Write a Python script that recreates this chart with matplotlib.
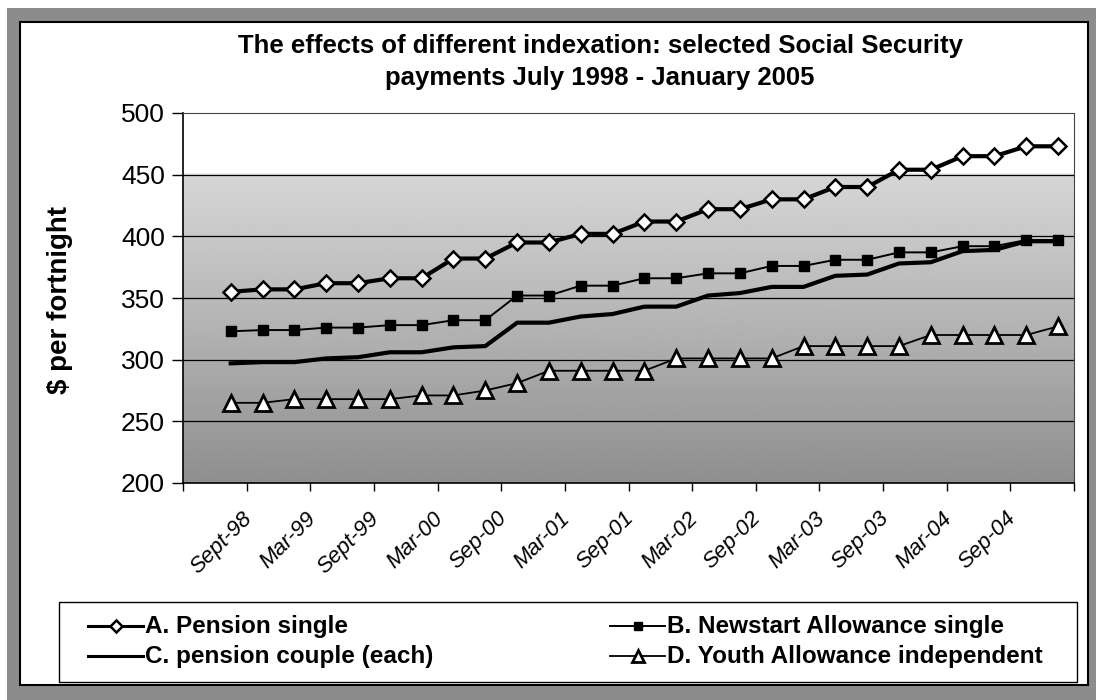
import numpy as np
import matplotlib.pyplot as plt
import matplotlib.transforms as mtransforms
from matplotlib.patches import Rectangle
from matplotlib.lines import Line2D

plt.rcParams['font.family'] = ['Liberation Sans', 'DejaVu Sans']

# quarterly payment rates, July 1998 - January 2005 ($ per fortnight)
quarters = np.arange(1, 28)
tick_labels = ['Sept-98', 'Mar-99', 'Sept-99', 'Mar-00', 'Sep-00', 'Mar-01', 'Sep-01',
               'Mar-02', 'Sep-02', 'Mar-03', 'Sep-03', 'Mar-04', 'Sep-04']

pension_single = [355, 357, 357, 362, 362, 366, 366, 382, 382, 395, 395, 402, 402, 412,
                  412, 422, 422, 430, 430, 440, 440, 454, 454, 465, 465, 473, 473]
newstart_single = [323, 324, 324, 326, 326, 328, 328, 332, 332, 352, 352, 360, 360, 366,
                   366, 370, 370, 376, 376, 381, 381, 387, 387, 392, 392, 397, 397]
pension_couple = [297, 298, 298, 301, 302, 306, 306, 310, 311, 330, 330, 335, 337, 343,
                  343, 352, 354, 359, 359, 368, 369, 378, 379, 388, 389, 396, 396]
youth_independent = [265, 265, 268, 268, 268, 268, 271, 271, 275, 281, 291, 291, 291, 291,
                     301, 301, 301, 301, 311, 311, 311, 311, 320, 320, 320, 320, 327]

W, H = 1096, 700
fig = plt.figure(figsize=(W / 100, H / 100), dpi=100)


def box(x0, y0, x1, y1):
    # pixel box (top-left origin) -> figure fraction rect
    return (x0 / W, 1 - y1 / H), (x1 - x0) / W, (y1 - y0) / H


def fx(x):
    return x / W


def fy(y):
    return 1 - y / H


# grey surround with the white chart area inside
xy, w, h = box(7, 8, W, H)
fig.patches.append(Rectangle(xy, w, h, transform=fig.transFigure, facecolor='#8c8c8c',
                             edgecolor='none', zorder=-2))
xy, w, h = box(20, 22, 1088, 685)
fig.patches.append(Rectangle(xy, w, h, transform=fig.transFigure, facecolor='white',
                             edgecolor='black', linewidth=1.5, zorder=-1))

ax = fig.add_axes([183 / W, 1 - 483 / H, (1074 - 183) / W, (483 - 113) / H])
ax.set_zorder(2)
ax.set_xlim(-0.5, 27.5)
ax.set_ylim(200, 500)

# plot area fill: white at the top fading to grey at the bottom
ys = np.linspace(500, 200, 300)
shade = np.interp(ys, [200, 450, 452, 500], [0.56, 0.84, 1.0, 1.0])
ax.imshow(shade.reshape(-1, 1), extent=(-0.5, 27.5, 200, 500), aspect='auto',
          cmap='gray', vmin=0, vmax=1, zorder=0, interpolation='bilinear')

for v in range(250, 500, 50):
    ax.axhline(v, color='black', linewidth=0.9, zorder=1)

styles = {
    'A. Pension single': dict(color='black', linewidth=3.0, marker='D', markersize=8,
                              markerfacecolor='white', markeredgecolor='black',
                              markeredgewidth=1.8),
    'B. Newstart Allowance single': dict(color='black', linewidth=1.4, marker='s',
                                         markersize=7.5),
    'C. pension couple (each)': dict(color='black', linewidth=3.0),
    'D. Youth Allowance independent': dict(color='black', linewidth=1.3, marker='^',
                                           markersize=11, markerfacecolor='white',
                                           markeredgecolor='black', markeredgewidth=2),
}

ax.plot(quarters, pension_couple, zorder=3, **styles['C. pension couple (each)'])
ax.plot(quarters, youth_independent, zorder=4, **styles['D. Youth Allowance independent'])
ax.plot(quarters, newstart_single, zorder=4, **styles['B. Newstart Allowance single'])
ax.plot(quarters, pension_single, zorder=5, **styles['A. Pension single'])

ax.set_yticks(range(200, 501, 50))
ax.tick_params(axis='y', labelsize=19, length=8, width=1, pad=5, direction='out')
ax.set_xticks(np.arange(-0.5, 27.6, 2))
ax.set_xticklabels([''] + tick_labels + [''])
ax.tick_params(axis='x', length=6, width=1, pad=4, direction='out')
shift = mtransforms.ScaledTranslation(2.3 / 100, -18.3 / 100, fig.dpi_scale_trans)
for lab in ax.get_xticklabels():
    lab.set_rotation(45)
    lab.set_rotation_mode('anchor')
    lab.set_ha('right')
    lab.set_va('center')
    lab.set_fontsize(16)
    lab.set_style('italic')
    lab.set_transform(lab.get_transform() + shift)

for side in ['left', 'bottom']:
    ax.spines[side].set_linewidth(1.2)
for side in ['top', 'right']:
    ax.spines[side].set_linewidth(0.8)
    ax.spines[side].set_color('#444444')

fig.text(fx(60), fy(300), '$ per fortnight', rotation=90, ha='center', va='center',
         fontsize=20, fontweight='bold')

fig.text(fx(600), fy(46), 'The effects of different indexation: selected Social Security',
         ha='center', va='center', fontsize=18.5, fontweight='bold')
fig.text(fx(600), fy(78), 'payments July 1998 - January 2005',
         ha='center', va='center', fontsize=18.5, fontweight='bold')

# legend box, two columns
xy, w, h = box(59, 602, 1077, 682)
fig.patches.append(Rectangle(xy, w, h, transform=fig.transFigure, facecolor='white',
                             edgecolor='black', linewidth=1.0, zorder=3))
legend_slots = [('A. Pension single', 88, 626), ('B. Newstart Allowance single', 610, 626),
                ('C. pension couple (each)', 88, 656),
                ('D. Youth Allowance independent', 610, 656)]
for name, x0, yc in legend_slots:
    st = dict(styles[name])
    st['linewidth'] = min(st['linewidth'], 2.2)
    if 'markersize' in st:
        st['markersize'] *= 0.8
    fig.add_artist(Line2D([fx(x0), fx(x0 + 55)], [fy(yc), fy(yc)],
                          transform=fig.transFigure, zorder=4,
                          **{k: v for k, v in st.items() if k != 'marker'}))
    if 'marker' in st:
        fig.add_artist(Line2D([fx(x0 + 27.5)], [fy(yc)], transform=fig.transFigure,
                              zorder=5, linestyle='none',
                              **{k: v for k, v in st.items() if k != 'linewidth'}))
    fig.text(fx(x0 + 57), fy(yc), name, ha='left', va='center', fontsize=17.5,
             fontweight='bold', zorder=5)

fig.savefig('out.png', dpi=100)
